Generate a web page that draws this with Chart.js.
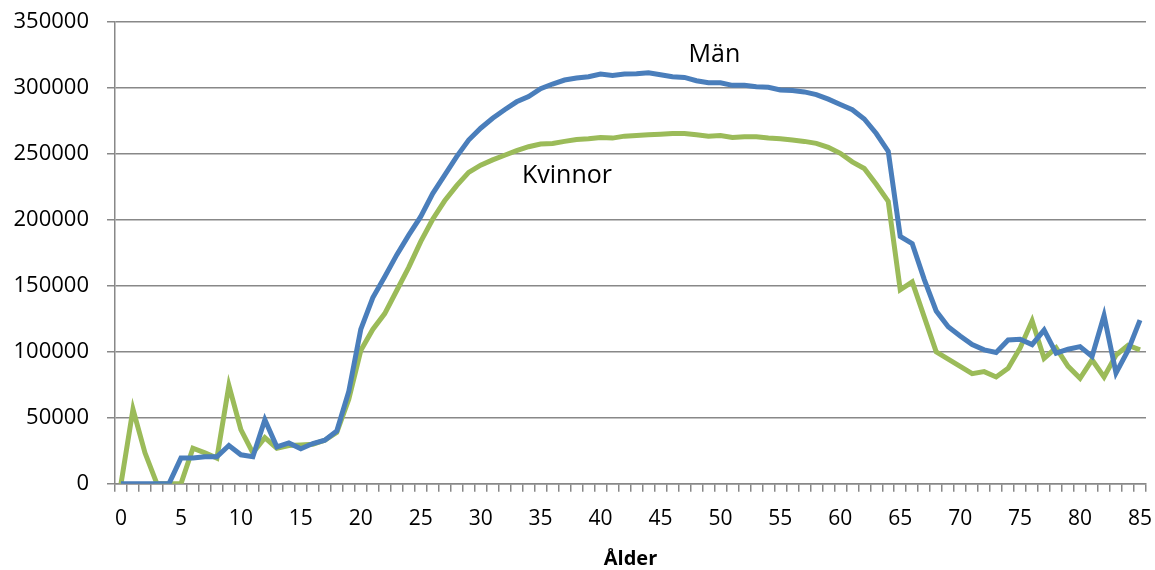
<!DOCTYPE html>
<html>
<head>
<meta charset="utf-8">
<script src="https://cdn.jsdelivr.net/npm/chart.js@4"></script>
<style>
    html, body { margin: 0; padding: 0; background: #fff; }
    #wrap { width: 1155px; height: 570px; }
</style>
</head>
<body>
<div id="wrap"><canvas id="chart" width="1155" height="570"></canvas></div>
<script>
let ages = [0, 1, 2, 3, 4, 5, 6, 7, 8, 9, 10, 11, 12, 13, 14, 15, 16, 17, 18, 19,
    20, 21, 22, 23, 24, 25, 26, 27, 28, 29, 30, 31, 32, 33, 34, 35, 36, 37, 38, 39,
    40, 41, 42, 43, 44, 45, 46, 47, 48, 49, 50, 51, 52, 53, 54, 55, 56, 57, 58, 59,
    60, 61, 62, 63, 64, 65, 66, 67, 68, 69, 70, 71, 72, 73, 74, 75, 76, 77, 78, 79,
    80, 81, 82, 83, 84, 85];

let man = [0, 0, 0, 0, 0, 19500, 19500, 20500, 20500, 29000,
    22000, 20500, 48500, 28000, 31000, 26500, 30500, 33000, 40000, 70000,
    117000, 141000, 157000, 173500, 188500, 202500, 220000, 234000, 248000, 260500,
    269500, 277000, 283500, 289500, 293500, 299500, 303000, 306000, 307500, 308500,
    310500, 309500, 310500, 310800, 311500, 310000, 308500, 308000, 305500, 304000,
    304000, 302000, 302000, 301000, 300500, 298500, 298000, 297000, 295000, 291500,
    287500, 283500, 276500, 265500, 252000, 187500, 182000, 155000, 131000, 119000,
    112000, 105500, 101500, 99500, 109000, 109500, 105500, 116500, 99000, 102000,
    104000, 96500, 127500, 84000, 101000, 124000];

let kvinnor = [0, 56500, 23500, 0, 0, 0, 27000, 23500, 19500, 74500,
    41000, 23500, 35000, 27000, 29000, 29500, 30000, 33000, 39000, 64000,
    101000, 117000, 129000, 146500, 164000, 183500, 200500, 214500, 226000, 236000,
    241500, 245500, 249000, 252500, 255500, 257500, 258000, 259500, 261000, 261500,
    262500, 262000, 263500, 264000, 264500, 265000, 265500, 265500, 264500, 263500,
    264000, 262500, 263000, 263000, 262000, 261500, 260500, 259500, 258000, 255000,
    250500, 244000, 239000, 227000, 214000, 147000, 153000, 126500, 100000, 94500,
    89000, 83500, 85000, 81000, 87500, 103000, 123500, 95000, 103000, 89000,
    80000, 94000, 81000, 97500, 105000, 101500];

let seriesLabels = ["Män", "Kvinnor"];
// where the two series names sit, in data units (age index, value)
let labelSpots = [[49.5, 325000], [37.2, 233000]];

const FONT = "'Open Sans', 'Noto Sans', sans-serif";

const seriesNames = {
    id: "seriesNames",
    afterDatasetsDraw(chart) {
        let ctx = chart.ctx;
        let xs = chart.scales.x;
        let ys = chart.scales.y;
        ctx.save();
        ctx.font = "25px " + FONT;
        ctx.fillStyle = "#000";
        ctx.textAlign = "center";
        ctx.textBaseline = "middle";
        seriesLabels.forEach((t, i) => {
            ctx.fillText(t, xs.getPixelForValue(labelSpots[i][0]), ys.getPixelForValue(labelSpots[i][1]));
        });
        ctx.restore();
    }
};

new Chart(document.getElementById("chart"), {
    type: "line",
    data: {
        labels: ages,
        datasets: [{
            label: "Män",
            data: man,
            borderColor: "#4a7ebb",
            borderWidth: 5,
            pointRadius: 0,
            tension: 0
        }, {
            label: "Kvinnor",
            data: kvinnor,
            borderColor: "#9bbb59",
            borderWidth: 5,
            pointRadius: 0,
            tension: 0
        }]
    },
    options: {
        responsive: false,
        animation: false,
        layout: { padding: { top: 22, right: 9, left: 0, bottom: -1 } },
        plugins: {
            legend: { display: false },
            tooltip: { enabled: false }
        },
        scales: {
            x: {
                type: "category",
                offset: true,
                afterFit: s => { s.paddingRight = 0; },
                grid: {
                    offset: true,
                    drawOnChartArea: false,
                    drawTicks: true,
                    tickLength: 8,
                    color: "#888",
                    lineWidth: 1.5
                },
                border: { color: "#888", width: 1.5 },
                ticks: {
                    autoSkip: false,
                    maxRotation: 0,
                    padding: 15,
                    color: "#000",
                    font: { family: FONT, size: 21 },
                    callback: (v, i) => i % 5 === 0 ? ages[i] : ""
                },
                title: {
                    display: true,
                    text: "Ålder",
                    color: "#000",
                    font: { family: FONT, size: 20, weight: "bold" },
                    padding: { top: 0, bottom: 0 }
                }
            },
            y: {
                min: 0,
                max: 350000,
                afterFit: s => {
                    s.width = 115;
                    s.paddingTop = 0;
                    s.paddingBottom = 0;
                },
                grid: {
                    color: "#888",
                    lineWidth: 1.5,
                    tickLength: 8
                },
                border: { color: "#888", width: 1.5 },
                ticks: {
                    stepSize: 50000,
                    padding: 18,
                    color: "#000",
                    font: { family: FONT, size: 22 },
                    callback: v => String(v)
                }
            }
        }
    },
    plugins: [seriesNames]
});
</script>
</body>
</html>
